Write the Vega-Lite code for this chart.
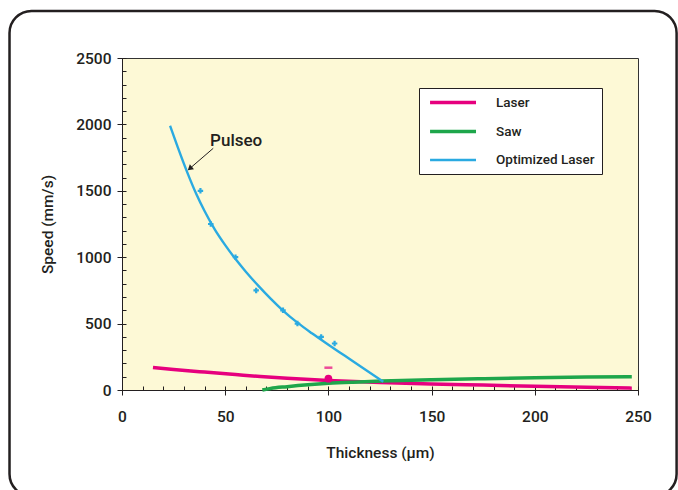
{
  "$schema": "https://vega.github.io/schema/vega-lite/v6.json",
  "width": 516,
  "height": 332,
  "autosize": "none",
  "padding": {"left": 122, "top": 58, "right": 40, "bottom": 100},
  "background": "white",
  "config": {
    "view": {"fill": "#FDF9D6", "stroke": "#333333", "strokeWidth": 1},
    "font": "Roboto",
    "axis": {
      "labelFont": "Roboto", "titleFont": "Roboto",
      "labelFontWeight": 500, "titleFontWeight": 500,
      "labelColor": "#231F20", "titleColor": "#231F20",
      "domainColor": "#231F20", "tickColor": "#231F20", "grid": false,
      "labelFlush": false
    }
  },
  "datasets": {
    "curves": [
      {"series": "Laser", "x": 15, "y": 170},
      {"series": "Laser", "x": 25, "y": 155},
      {"series": "Laser", "x": 40, "y": 135},
      {"series": "Laser", "x": 55, "y": 116},
      {"series": "Laser", "x": 67, "y": 101},
      {"series": "Laser", "x": 80, "y": 88},
      {"series": "Laser", "x": 100, "y": 72},
      {"series": "Laser", "x": 125, "y": 57},
      {"series": "Laser", "x": 150, "y": 46},
      {"series": "Laser", "x": 175, "y": 37},
      {"series": "Laser", "x": 200, "y": 28},
      {"series": "Laser", "x": 225, "y": 20},
      {"series": "Laser", "x": 247, "y": 14},
      {"series": "Saw", "x": 68, "y": 0},
      {"series": "Saw", "x": 72, "y": 12},
      {"series": "Saw", "x": 80, "y": 25},
      {"series": "Saw", "x": 90, "y": 39},
      {"series": "Saw", "x": 100, "y": 50},
      {"series": "Saw", "x": 112, "y": 59},
      {"series": "Saw", "x": 126, "y": 67},
      {"series": "Saw", "x": 150, "y": 77},
      {"series": "Saw", "x": 175, "y": 85},
      {"series": "Saw", "x": 200, "y": 92},
      {"series": "Saw", "x": 225, "y": 97},
      {"series": "Saw", "x": 247, "y": 100},
      {"series": "Optimized Laser", "x": 23.3, "y": 1990},
      {"series": "Optimized Laser", "x": 27, "y": 1829},
      {"series": "Optimized Laser", "x": 32, "y": 1624},
      {"series": "Optimized Laser", "x": 36, "y": 1476},
      {"series": "Optimized Laser", "x": 40, "y": 1348},
      {"series": "Optimized Laser", "x": 45, "y": 1208},
      {"series": "Optimized Laser", "x": 50, "y": 1091},
      {"series": "Optimized Laser", "x": 55, "y": 986},
      {"series": "Optimized Laser", "x": 60, "y": 891},
      {"series": "Optimized Laser", "x": 66, "y": 786},
      {"series": "Optimized Laser", "x": 72, "y": 688},
      {"series": "Optimized Laser", "x": 78, "y": 598},
      {"series": "Optimized Laser", "x": 85, "y": 507},
      {"series": "Optimized Laser", "x": 92, "y": 427},
      {"series": "Optimized Laser", "x": 100, "y": 341},
      {"series": "Optimized Laser", "x": 108, "y": 257},
      {"series": "Optimized Laser", "x": 116, "y": 173},
      {"series": "Optimized Laser", "x": 126.6, "y": 62}
    ],
    "pulseo": [
      {"x": 38, "y": 1500},
      {"x": 43, "y": 1250},
      {"x": 55, "y": 1000},
      {"x": 65, "y": 750},
      {"x": 78, "y": 600},
      {"x": 85, "y": 500},
      {"x": 96.5, "y": 400},
      {"x": 103, "y": 350}
    ],
    "laserDot": [{"x": 100, "y": 85}],
    "laserDash": [{"x": 100, "y": 168}],
    "label": [{"x": 55.3, "y": 1876, "text": "Pulseo"}],
    "arrow": [{"x": 44.2, "y": 1820, "x2": 33.0, "y2": 1670}],
    "arrowHead": [{"x": 33.2, "y": 1672}]
  },
  "layer": [
    {
      "encoding": {
        "x": {"field": "x", "type": "quantitative",
          "scale": {"domain": [0, 250], "nice": false, "zero": false},
          "axis": {"orient": "bottom", "values": [0, 50, 100, 150, 200, 250], "format": "d", "tickSize": 5, "labelPadding": 14,
            "labelFontSize": 15.5, "titleFontSize": 15.5, "title": "Thickness (µm)", "titlePadding": 21, "domainWidth": 1}},
        "y": {"field": "y", "type": "quantitative",
          "scale": {"domain": [0, 2500], "nice": false, "zero": false},
          "axis": {"orient": "left", "values": [0, 500, 1000, 1500, 2000, 2500], "format": "d", "tickSize": 5, "labelPadding": 6,
            "labelFontSize": 15.5, "titleFontSize": 15.5, "title": "Speed (mm/s)", "titlePadding": 20, "domainWidth": 1}}
      },
      "layer": [
        {
          "data": {"name": "curves"},
          "mark": {"type": "line", "interpolate": "monotone"},
          "encoding": {
            "color": {"field": "series", "type": "nominal",
              "scale": {"domain": ["Laser", "Saw", "Optimized Laser"], "range": ["#E6007E", "#1EA64B", "#2AAAE1"]},
              "legend": {"orient": "none", "legendX": 297, "legendY": 30, "title": null, "fillColor": "white",
                "strokeColor": "#231F20", "padding": 7, "symbolType": "M-0.6,0L7.4,0", "symbolSize": 132,
                "labelFontSize": 13.5, "labelFont": "Roboto", "labelFontWeight": 500, "labelColor": "#231F20", "labelOffset": 55, "rowPadding": 14}},
            "strokeWidth": {"field": "series", "type": "nominal",
              "scale": {"type": "ordinal", "domain": ["Laser", "Saw", "Optimized Laser"], "range": [3.5, 3.5, 2.4]},
              "legend": {"orient": "none", "legendX": 297, "legendY": 30, "title": null, "fillColor": "white",
                "strokeColor": "#231F20", "padding": 7, "symbolType": "M-0.6,0L7.4,0", "symbolSize": 132,
                "labelFontSize": 13.5, "labelFont": "Roboto", "labelFontWeight": 500, "labelColor": "#231F20", "labelOffset": 55, "rowPadding": 14}}
          }
        },
        {
          "data": {"name": "pulseo"},
          "mark": {"type": "point", "shape": "cross", "filled": true, "size": 30, "color": "#2AAAE1", "opacity": 1}
        },
        {
          "data": {"name": "laserDot"},
          "mark": {"type": "point", "shape": "circle", "filled": true, "size": 60, "color": "#E6007E", "opacity": 1}
        },
        {
          "data": {"name": "laserDash"},
          "mark": {"type": "tick", "orient": "horizontal", "size": 8, "thickness": 2.5, "color": "#E6007E"}
        },
        {
          "data": {"name": "label"},
          "mark": {"type": "text", "fontSize": 17, "font": "Roboto", "fontWeight": 500, "color": "#231F20", "align": "center", "baseline": "middle"},
          "encoding": {"text": {"field": "text"}}
        },
        {
          "data": {"name": "arrow"},
          "mark": {"type": "rule", "color": "#231F20", "strokeWidth": 1},
          "encoding": {"x2": {"field": "x2"}, "y2": {"field": "y2"}}
        },
        {
          "data": {"name": "arrowHead"},
          "mark": {"type": "point", "shape": "triangle", "filled": true, "size": 40, "angle": 229, "color": "#231F20", "opacity": 1}
        }
      ]
    },
    {
      "data": {"values": [{}]},
      "mark": {"type": "rect", "fillOpacity": 0, "stroke": "#231F20", "strokeWidth": 2.5, "cornerRadius": 22, "clip": false},
      "encoding": {
        "x": {"datum": -54.5, "type": "quantitative",
          "axis": {"orient": "bottom", "values": [0,10,20,30,40,50,60,70,80,90,100,110,120,130,140,150,160,170,180,190,200,210,220,230,240,250],
            "tickSize": 4, "offset": -4, "labels": false, "domain": false, "title": null, "grid": false}},
        "x2": {"datum": 268.7},
        "y": {"datum": 2854, "type": "quantitative",
          "axis": {"orient": "left", "values": [0,100,200,300,400,500,600,700,800,900,1000,1100,1200,1300,1400,1500,1600,1700,1800,1900,2000,2100,2200,2300,2400,2500],
            "tickSize": 4, "offset": -4, "labels": false, "domain": false, "title": null, "grid": false}},
        "y2": {"datum": -798}
      }
    }
  ],
  "resolve": {"axis": {"x": "independent", "y": "independent"}}
}
